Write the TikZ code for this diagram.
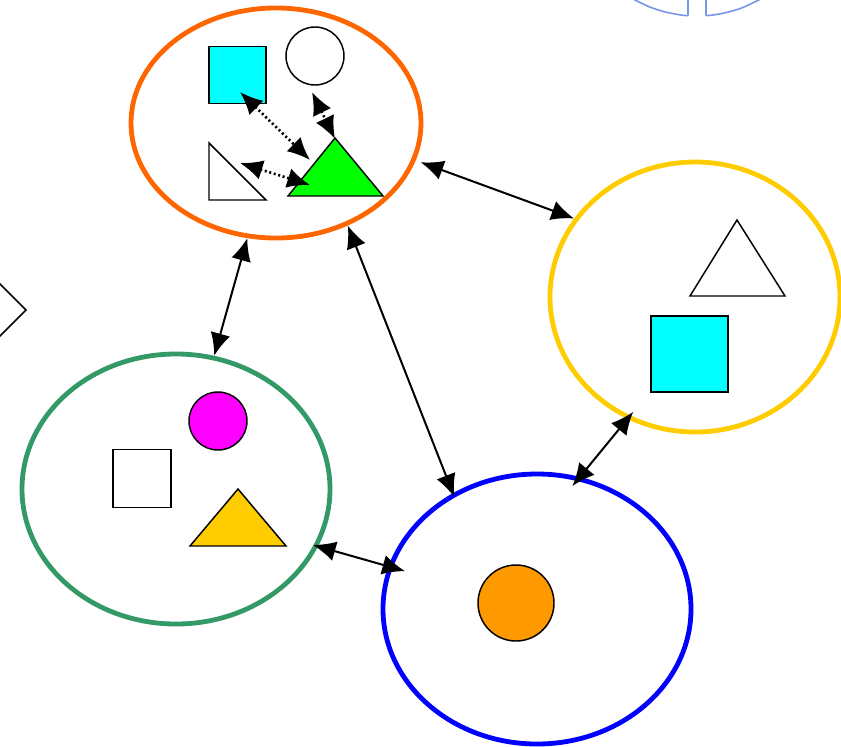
\documentclass[tikz,border=0pt]{standalone}
\usepackage{xcolor}
\usepackage{tikz}
\definecolor{ringorange}{RGB}{255, 102, 0}
\definecolor{ringyellow}{RGB}{255, 204, 0}
\definecolor{ringgreen}{RGB}{51, 153, 102}
\definecolor{ringblue}{RGB}{0, 0, 255}
\definecolor{shapecyan}{RGB}{0, 255, 255}
\definecolor{shapegreen}{RGB}{0, 255, 0}
\definecolor{shapemagenta}{RGB}{255, 0, 255}
\definecolor{shapegold}{RGB}{255, 204, 0}
\definecolor{shapeorange}{RGB}{255, 153, 0}
\definecolor{ghostblue}{RGB}{120, 150, 230}
\usetikzlibrary{shapes.geometric,arrows.meta,positioning,calc}

\begin{document}
\begin{tikzpicture}[
    x=0.75pt, y=-0.75pt,
    cluster/.style={
        ellipse,
        draw,
        line width=3.6pt,
        inner sep=0pt
    },
    item/.style={
        draw=black,
        line width=1.1pt,
        inner sep=0pt
    },
    link/.style={
        line width=1.5pt,
        {Latex[length=17pt,width=15pt]}-{Latex[length=17pt,width=15pt]}
    },
    dotlink/.style={
        link,
        dotted,
        line width=2pt
    }
]
    \useasboundingbox (0,0) rectangle (841,746);
    \clip (0,0) rectangle (841,746);

    % Clusters
    \node[cluster, draw=ringorange, minimum width=217.5pt, minimum height=172.5pt] (orange) at (276,123) {};
    \node[cluster, draw=ringyellow, minimum width=217.5pt, minimum height=202.5pt] (yellow) at (695,297) {};
    \node[cluster, draw=ringgreen, minimum width=231pt, minimum height=202.5pt] (green) at (176,489) {};
    \node[cluster, draw=ringblue, minimum width=231pt, minimum height=202.5pt] (blue) at (537,609) {};

    % Orange cluster
    \node[item, rectangle, fill=shapecyan, minimum size=42.75pt] (osquare) at (237.5,75) {};
    \node[item, circle, fill=white, minimum size=43.5pt] (ocircle) at (315,56) {};
    \draw[line width=1.1pt, fill=white] (209,143) -- (209,200) -- (266,200) -- cycle;
    \draw[line width=1.1pt, fill=shapegreen] (288,196) -- (335,138) -- (383,196) -- cycle;
    \coordinate (sqend) at (240,92);
    \coordinate (circend) at (312,92);
    \coordinate (rtend) at (240,163);
    \coordinate (gtleft) at (310,160);
    \coordinate (gttop) at (335,139);
    \coordinate (gtlow) at (310,185);
    \draw[dotlink] (sqend) -- (gtleft);
    \draw[dotlink] (circend) -- (gttop);
    \draw[dotlink] (rtend) -- (gtlow);

    % Yellow cluster
    \draw[line width=1.1pt, fill=white] (690,296) -- (737,220) -- (785,296) -- cycle;
    \node[item, rectangle, fill=shapecyan, minimum width=57.75pt, minimum height=57pt] (ysquare) at (689.5,354) {};

    % Green cluster
    \node[item, circle, fill=shapemagenta, minimum size=43.5pt] (gcircle) at (218,421) {};
    \node[item, rectangle, fill=white, minimum size=43.5pt] (gsquare) at (142,478.5) {};
    \draw[line width=1.1pt, fill=shapegold] (190,546) -- (238,489) -- (286,546) -- cycle;

    % Blue cluster
    \node[item, circle, fill=shapeorange, minimum size=57pt] (bcircle) at (516,603) {};

    % Links between clusters
    \draw[link, shorten <=4pt] (orange.-15) -- (yellow.147);
    \draw[link] (orange.-104) -- (green.74);
    \draw[link, shorten >=-3pt] (orange.-55) -- (blue.126);
    \draw[link, shorten <=-7pt, shorten >=-9pt] (yellow.-119.5) -- (blue.72);
    \draw[link, shorten <=-4pt, shorten >=-13pt] (green.-22.6) -- (blue.164);

    % Cut-off shapes at the edges
    \draw[line width=1.1pt] (26,310) -- (-25,259) -- (-76,310) -- (-25,361) -- cycle;
    \draw[ghostblue, line width=1.2pt] (688,-2) -- (688,15.7)
        plot[smooth] coordinates {(688,15.7) (680,14.9) (665,11.9) (650,7.1) (635,0) (625,-6)};
    \draw[ghostblue, line width=1.2pt] (706,-2) -- (706,15.7)
        plot[smooth] coordinates {(706,15.7) (720,13.9) (740,8.6) (760,-0.6) (770,-6)};
\end{tikzpicture}
\end{document}
